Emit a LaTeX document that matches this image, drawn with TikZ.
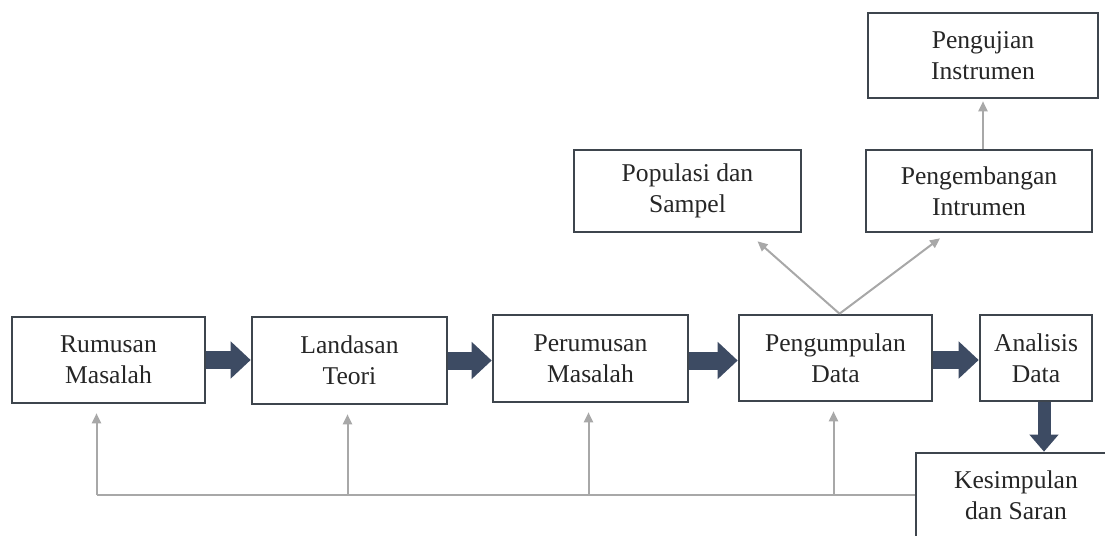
\documentclass[tikz,border=0pt]{standalone}
\usepackage{fontspec}
\setmainfont{Liberation Serif}
\usetikzlibrary{arrows.meta}
\usetikzlibrary{calc}
\definecolor{slate-dark}{HTML}{3D4B63}
\definecolor{frame-gray}{HTML}{3E454D}
\definecolor{light-gray}{HTML}{A8A8A8}
\colorlet{stage}{frame-gray}
\colorlet{flow}{slate-dark}
\colorlet{feedback}{light-gray}
\tikzset{
  stagebox/.style={draw=stage, line width=1.3pt, fill=white, text=black!85,
    align=center, inner sep=0pt, font=\fontsize{12.8}{15.5}\selectfont},
  flowarrow/.style={draw=flow, line width=9pt, -{Triangle[length=10pt,width=18pt]}},
  flowdown/.style={draw=flow, line width=6.5pt, -{Triangle[length=8.5pt,width=14pt]}},
  backarrow/.style={draw=feedback, line width=1pt, -{Triangle[length=5pt,width=4.5pt]}},
}

\begin{document}
\begin{tikzpicture}[x=0.5pt, y=-0.5pt]
\useasboundingbox (0,0) rectangle (1105,536);
% main row
\node[stagebox, minimum width=96.5pt, minimum height=43pt] (rumusan) at (108.5,360) {Rumusan\\Masalah};
\node[stagebox, minimum width=97.5pt, minimum height=43.5pt] (landasan) at (349.5,360.5) {Landasan\\Teori};
\node[stagebox, minimum width=97.5pt, minimum height=43.5pt] (perumusan) at (590.5,358.5) {Perumusan\\Masalah};
\node[stagebox, minimum width=96.5pt, minimum height=43pt] (pengumpulan) at (835.5,358) {Pengumpulan\\Data};
\node[stagebox, minimum width=56pt, minimum height=43pt] (analisis) at (1036,358) {Analisis\\Data};
\node[stagebox, minimum width=100pt, minimum height=42pt] (kesimpulan) at (1016,495) {Kesimpulan\\dan Saran};
% upper boxes
\node[stagebox, minimum width=113.5pt, minimum height=41pt] (populasi) at (687.5,191) {Populasi dan\\Sampel};
\node[stagebox, minimum width=113pt, minimum height=41pt] (pengembangan) at (979,191) {Pengembangan\\Intrumen};
\node[stagebox, minimum width=115pt, minimum height=42.5pt] (pengujian) at (983,55.5) {Pengujian\\Instrumen};

% block arrows
\draw[flowarrow] (rumusan.east) -- (rumusan.east -| landasan.west);
\draw[flowarrow] (landasan.east) -- (landasan.east -| perumusan.west);
\draw[flowarrow] ([yshift=-1pt]perumusan.east) -- ([yshift=-1pt]perumusan.east -| pengumpulan.west);
\draw[flowarrow] ([yshift=-1pt]pengumpulan.east) -- ([yshift=-1pt]pengumpulan.east -| analisis.west);
\draw[flowdown] ([xshift=4pt]analisis.south) -- ([xshift=4pt]analisis.south |- kesimpulan.north);

% data collection branches
\draw[backarrow] ([xshift=2pt]pengumpulan.north) -- ([xshift=35pt,yshift=-4pt]populasi.south);
\draw[backarrow] ([xshift=2pt]pengumpulan.north) -- ([xshift=-19.5pt,yshift=-2.5pt]pengembangan.south);
\draw[backarrow] (pengujian.south |- pengembangan.north) -- ([yshift=-1pt]pengujian.south);

% feedback line
\draw[backarrow, -] (kesimpulan.west) -- ([xshift=-6pt]rumusan.south |- kesimpulan.west);
\foreach \n/\s in {rumusan/-6pt, landasan/-1pt, perumusan/-1pt, pengumpulan/-1pt} {
  \draw[backarrow] ([xshift=\s]\n.south |- kesimpulan.west) -- ([xshift=\s,yshift=-4.5pt]\n.south);
}
\end{tikzpicture}
\end{document}
